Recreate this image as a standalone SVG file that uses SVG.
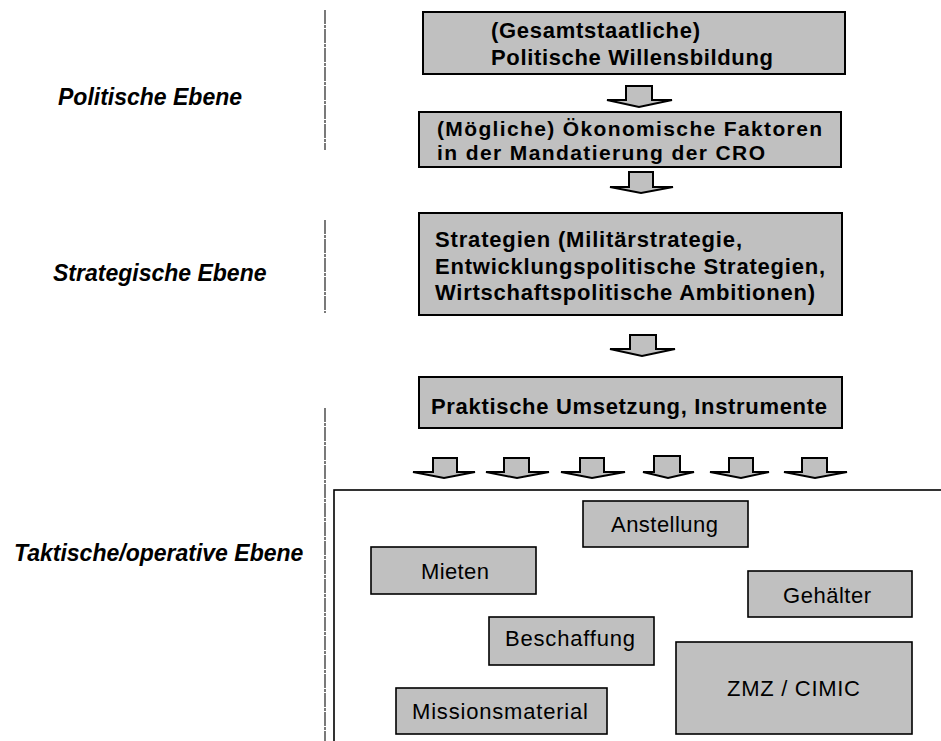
<svg xmlns="http://www.w3.org/2000/svg" width="941" height="741" viewBox="0 0 941 741">
<style>
.bg{fill:#ffffff}
.box{fill:#c0c0c0;stroke:#000;stroke-width:2}
.ibox{fill:#c0c0c0;stroke:#000;stroke-width:1.6}
.cont{fill:none;stroke:#000;stroke-width:1.6}
.b{font-family:"Liberation Sans",Arial,sans-serif;font-weight:bold;font-size:22px;fill:#000}
.b2{font-family:"Liberation Sans",Arial,sans-serif;font-weight:bold;font-size:21px;fill:#000}
.r{font-family:"Liberation Sans",Arial,sans-serif;font-size:22px;fill:#000}
.lvl{font-family:"Liberation Sans",Arial,sans-serif;font-weight:bold;font-style:italic;font-size:23px;fill:#000}
.sep{stroke:#222;stroke-width:1.2;fill:none;stroke-dasharray:14 1 3 1}
.arr{fill:#c0c0c0;stroke:#000;stroke-width:2;stroke-linejoin:miter}
</style>
<rect class="bg" x="0" y="0" width="941" height="741"/>

<g id="levels">
  <text class="lvl" x="58" y="105">Politische Ebene</text>
  <text class="lvl" x="53" y="281">Strategische Ebene</text>
  <text class="lvl" x="14" y="561">Taktische/operative Ebene</text>
  <line class="sep" x1="325" y1="10" x2="325" y2="150"/>
  <line class="sep" x1="325" y1="220" x2="325" y2="313"/>
  <line class="sep" x1="325" y1="408" x2="325" y2="741"/>
</g>

<g id="box-politik">
  <rect class="box" x="423" y="12" width="422" height="62"/>
  <text class="b" x="491" y="38" textLength="209">(Gesamtstaatliche)</text>
  <text class="b" x="491" y="64.5" textLength="282">Politische Willensbildung</text>
</g>

<g id="box-oekonomisch">
  <rect class="box" x="419" y="112" width="422" height="55"/>
  <text class="b2" x="437" y="136" textLength="385">(Mögliche) Ökonomische Faktoren</text>
  <text class="b2" x="437" y="159.5" textLength="328">in der Mandatierung der CRO</text>
</g>

<g id="box-strategien">
  <rect class="box" x="419" y="213" width="423" height="102"/>
  <text class="b" x="435" y="247" textLength="307">Strategien (Militärstrategie,</text>
  <text class="b" x="435" y="273.5" textLength="390">Entwicklungspolitische Strategien,</text>
  <text class="b" x="435" y="300" textLength="380">Wirtschaftspolitische Ambitionen)</text>
</g>

<g id="box-praktisch">
  <rect class="box" x="419" y="377" width="423" height="51"/>
  <text class="b" x="431" y="413.5" textLength="396">Praktische Umsetzung, Instrumente</text>
</g>

<g id="container-taktisch">
  <rect class="cont" x="334" y="490" width="620" height="260"/>
</g>

<g id="box-anstellung">
  <rect class="ibox" x="583" y="501" width="165" height="46"/>
  <text class="r" x="611" y="532" textLength="107">Anstellung</text>
</g>
<g id="box-mieten">
  <rect class="ibox" x="371" y="547" width="165" height="47"/>
  <text class="r" x="421" y="579" textLength="68">Mieten</text>
</g>
<g id="box-gehaelter">
  <rect class="ibox" x="748" y="571" width="164" height="46"/>
  <text class="r" x="783" y="603" textLength="88">Gehälter</text>
</g>
<g id="box-beschaffung">
  <rect class="ibox" x="489" y="617" width="165" height="48"/>
  <text class="r" x="505" y="646" textLength="130">Beschaffung</text>
</g>
<g id="box-zmz">
  <rect class="ibox" x="676" y="642" width="236" height="92"/>
  <text class="r" x="727" y="696" textLength="133">ZMZ / CIMIC</text>
</g>
<g id="box-missionsmaterial">
  <rect class="ibox" x="396" y="688" width="211" height="46"/>
  <text class="r" x="412" y="719" textLength="176">Missionsmaterial</text>
</g>

<g id="connectors">
  <polygon class="arr" points="626,86 652,86 652,100 672,100 639,107 607,100 626,100"/>
  <polygon class="arr" points="629,172 653,172 653,187 673,187 641,193 610,187 629,187"/>
  <polygon class="arr" points="630,335 656,335 656,349 675,349 642,356 610,349 630,349"/>
  <polygon class="arr" points="433,458 457,458 457,472 475,472 444,478 413,472 433,472"/>
  <polygon class="arr" points="504,458 529,458 529,472 549,472 517,478 486,472 504,472"/>
  <polygon class="arr" points="580,458 604,458 604,472 625,472 592,478 561,472 580,472"/>
  <polygon class="arr" points="654,456 680,456 680,472 694,472 668,478 643,472 654,472"/>
  <polygon class="arr" points="729,458 753,458 753,472 769,472 741,478 710,472 729,472"/>
  <polygon class="arr" points="802,458 827,458 827,472 847,472 815,478 784,472 802,472"/>
</g>
</svg>
